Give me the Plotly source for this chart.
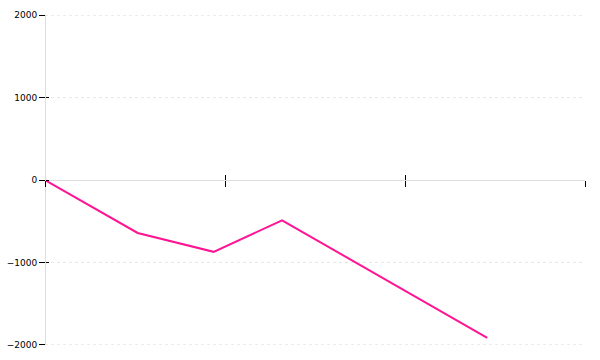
import plotly.graph_objects as go

x_values = [0, 0.515, 0.937, 1.317, 2.457]
y_values = [0, -643, -872, -490, -1916]
x_ticks = [0, 1, 2, 3]
y_ticks = [-2000, -1000, 0, 1000, 2000]
y_tick_labels = ["\u22122000", "\u22121000", "0", "1000", "2000"]
y_range = [-2003, 2003]

line_color = "#ff1493"
grid_color = "#e6e6e6"
font = dict(family="DejaVu Sans", size=9, color="#000")

fig = go.Figure()
fig.add_trace(go.Scatter(x=x_values, y=y_values, mode="lines",
                         line=dict(color=line_color, width=2),
                         showlegend=False, hoverinfo="skip"))
# dummy trace for overlay axes (inner half of crossing ticks)
fig.add_trace(go.Scatter(x=[x_ticks[0]], y=[y_ticks[2]], xaxis="x2", yaxis="y2",
                         mode="markers", marker=dict(opacity=0),
                         showlegend=False, hoverinfo="skip"))

# dotted horizontal grid lines at every non-zero y tick
for t in y_ticks:
    if t != 0:
        fig.add_shape(type="line", xref="x domain", x0=0, x1=1, yref="y", y0=t, y1=t,
                      line=dict(color=grid_color, width=1, dash="dot"), layer="below")

fig.update_layout(
    width=600, height=360,
    margin=dict(l=45, r=15, t=15, b=15, autoexpand=False),
    paper_bgcolor="white", plot_bgcolor="white",
    font=font,
    xaxis=dict(range=[0, 3], tickvals=x_ticks, showticklabels=False,
               showgrid=False, zeroline=False, automargin=False,
               showline=True, linecolor="#dddddd", linewidth=1,
               ticks="outside", ticklen=6, tickcolor="#000", tickwidth=1,
               anchor="free", position=0.5),
    yaxis=dict(range=y_range, tickvals=y_ticks, ticktext=y_tick_labels,
               showgrid=False, zeroline=False, automargin=False,
               showline=True, linecolor="#dddddd", linewidth=1,
               ticks="outside", ticklen=6, tickcolor="#000", tickwidth=1,
               ticklabelstandoff=0,
               anchor="free", position=0),
    xaxis2=dict(range=[0, 3], tickvals=x_ticks, showticklabels=False,
                overlaying="x", showgrid=False, zeroline=False, showline=False,
                automargin=False,
                ticks="inside", ticklen=5, tickcolor="#000", tickwidth=1,
                anchor="free", position=0.5),
    yaxis2=dict(range=y_range, tickvals=y_ticks, showticklabels=False,
                overlaying="y", showgrid=False, zeroline=False, showline=False,
                automargin=False,
                ticks="inside", ticklen=3, tickcolor="#000", tickwidth=1,
                anchor="free", position=0, side="left"),
)

fig.write_html("out.html")
